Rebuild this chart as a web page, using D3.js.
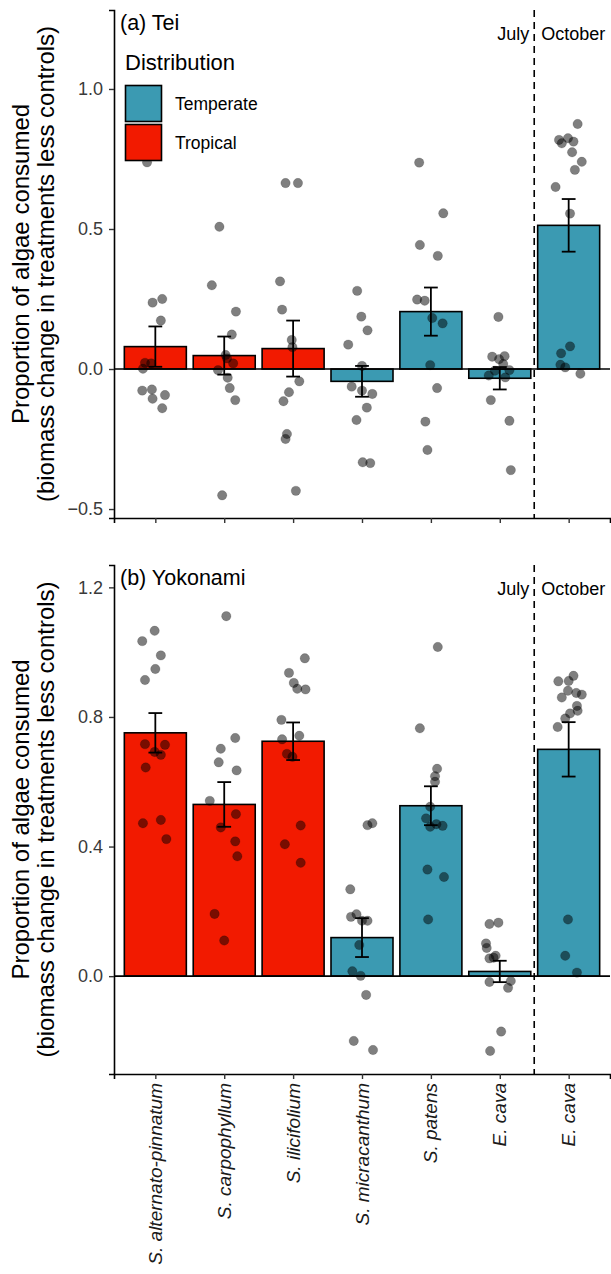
<!DOCTYPE html>
<html><head><meta charset="utf-8">
<script src="https://cdn.jsdelivr.net/npm/d3@7"></script>
<style>body{margin:0;background:#fff}svg{display:block}text{font-family:"Liberation Sans",Arial,sans-serif}</style>
</head><body><svg id="c" width="611" height="1274"></svg>
<script>
// ---- data ----
const categories = ["S. alternato-pinnatum","S. carpophyllum","S. ilicifolium","S. micracanthum","S. patens","E. cava","E. cava"];
const distribution = ["Tropical","Tropical","Tropical","Temperate","Temperate","Temperate","Temperate"];
const legendItems = ["Temperate","Tropical"];
const panelTitles = ["(a) Tei","(b) Yokonami"];
const monthLabels = ["July","October"];
const teiMean = [0.080,0.048,0.073,-0.044,0.205,-0.033,0.513];
const teiSE   = [0.072,0.068,0.100,0.055,0.086,0.040,0.094];
const yokMean = [0.751,0.530,0.725,0.119,0.526,0.0145,0.700];
const yokSE   = [0.061,0.069,0.058,0.060,0.060,0.033,0.084];
const teiTicks = [-0.5,0,0.5,1.0];
const yokTicks = [0,0.4,0.8,1.2];
// points: [category index (0-based), jitter (category units), value]
const teiPoints = [
[0,-0.12,0.738],[0,0.10,0.25],[0,-0.04,0.237],[0,0.08,0.173],[0,-0.15,0.022],[0,-0.06,0.02],[0,-0.18,0.001],[0,-0.05,-0.073],[0,-0.19,-0.077],[0,0.14,-0.093],[0,-0.04,-0.106],[0,0.10,-0.14],
[1,-0.07,0.508],[1,-0.18,0.299],[1,0.17,0.205],[1,0.11,0.123],[1,0.02,0.05],[1,0.04,0.038],[1,0.13,0.02],[1,-0.09,-0.004],[1,0.05,-0.031],[1,0.08,-0.068],[1,0.16,-0.111],[1,-0.03,-0.451],
[2,-0.11,0.664],[2,0.07,0.664],[2,-0.19,0.313],[2,-0.16,0.212],[2,-0.02,0.104],[2,-0.01,0.078],[2,0.09,-0.044],[2,-0.06,-0.083],[2,-0.14,-0.115],[2,-0.09,-0.232],[2,-0.11,-0.25],[2,0.04,-0.435],
[3,-0.07,0.279],[3,-0.01,0.187],[3,0.08,0.138],[3,-0.20,0.087],[3,0.00,0.011],[3,-0.15,-0.063],[3,0.00,-0.077],[3,0.15,-0.089],[3,0.07,-0.138],[3,-0.08,-0.182],[3,0.01,-0.333],[3,0.12,-0.336],
[4,-0.17,0.737],[4,0.18,0.556],[4,-0.16,0.443],[4,0.10,0.404],[4,-0.20,0.248],[4,-0.09,0.244],[4,0.02,0.182],[4,0.17,0.163],[4,-0.01,0.014],[4,0.09,-0.068],[4,-0.08,-0.188],[4,-0.05,-0.289],
[5,-0.02,0.186],[5,-0.11,0.044],[5,0.07,0.046],[5,-0.01,0.035],[5,0.05,0.018],[5,0.14,-0.004],[5,-0.07,-0.006],[5,-0.16,-0.023],[5,0.08,-0.03],[5,-0.13,-0.111],[5,0.14,-0.185],[5,0.16,-0.361],
[6,0.13,0.875],[6,-0.14,0.818],[6,-0.10,0.806],[6,-0.01,0.824],[6,0.07,0.812],[6,0.05,0.774],[6,0.19,0.74],[6,0.09,0.711],[6,-0.19,0.65],[6,0.02,0.555],[6,0.02,0.081],[6,-0.11,0.056],[6,-0.12,0.015],[6,-0.05,0.006],[6,0.17,-0.017]
];
const yokPoints = [
[0,-0.01,1.066],[0,-0.19,1.034],[0,0.08,0.99],[0,0.00,0.948],[0,-0.15,0.914],[0,-0.15,0.716],[0,0.14,0.714],[0,-0.01,0.692],[0,0.08,0.683],[0,-0.14,0.644],[0,-0.18,0.472],[0,0.08,0.482],[0,0.16,0.423],
[1,0.03,1.111],[1,0.16,0.735],[1,-0.05,0.702],[1,-0.08,0.66],[1,0.18,0.635],[1,-0.21,0.541],[1,0.17,0.5],[1,-0.05,0.459],[1,0.16,0.416],[1,0.19,0.37],[1,-0.14,0.192],[1,0.00,0.11],
[2,0.17,0.981],[2,-0.06,0.936],[2,0.01,0.905],[2,0.06,0.887],[2,0.18,0.885],[2,-0.17,0.791],[2,-0.16,0.731],[2,0.09,0.742],[2,-0.09,0.686],[2,-0.01,0.677],[2,0.11,0.465],[2,-0.12,0.407],[2,0.11,0.35],
[3,0.08,0.466],[3,0.15,0.472],[3,-0.17,0.268],[3,-0.08,0.191],[3,-0.16,0.183],[3,0.00,0.171],[3,0.08,0.171],[3,-0.04,0.096],[3,-0.14,0.015],[3,-0.02,0.001],[3,0.06,-0.058],[3,-0.12,-0.2],[3,0.16,-0.228],
[4,0.10,1.016],[4,-0.16,0.765],[4,0.09,0.64],[4,0.06,0.617],[4,0.06,0.6],[4,-0.01,0.523],[4,-0.07,0.487],[4,-0.01,0.461],[4,0.08,0.469],[4,0.17,0.464],[4,-0.05,0.329],[4,0.19,0.306],[4,-0.04,0.175],
[5,-0.15,0.161],[5,-0.02,0.165],[5,-0.20,0.101],[5,-0.19,0.087],[5,-0.15,0.055],[5,-0.06,0.063],[5,-0.09,0.057],[5,-0.15,-0.018],[5,0.16,-0.015],[5,0.12,-0.036],[5,0.02,-0.171],[5,-0.14,-0.231],
[6,0.07,0.927],[6,-0.15,0.91],[6,0.00,0.911],[6,-0.01,0.881],[6,0.11,0.874],[6,0.19,0.869],[6,-0.10,0.86],[6,0.12,0.834],[6,0.13,0.819],[6,0.02,0.811],[6,-0.05,0.795],[6,-0.16,0.769],[6,-0.01,0.175],[6,-0.05,0.063],[6,0.12,0.011]
];

// ---- layout / style ----
const colors = {Temperate:"#3B9AB2", Tropical:"#F21A00"};
const svg = d3.select("#c");
const x = d3.scaleLinear().domain([0.4, 7.6]).range([114, 610]);
const panels = [
  {mean:teiMean, se:teiSE, pts:teiPoints, ticks:teiTicks, fmt:d3.format(".1f"), y:d3.scaleLinear().domain([-0.532,1.282]).range([518,10]), title:panelTitles[0], xlabels:false, legend:true},
  {mean:yokMean, se:yokSE, pts:yokPoints, ticks:yokTicks, fmt:d3.format(".1f"), y:d3.scaleLinear().domain([-0.302,1.269]).range([1074,565]), title:panelTitles[1], xlabels:true, legend:false}
];

panels.forEach(p => {
  const y = p.y;
  const [yb, yt] = y.range();
  const g = svg.append("g");
  // bars
  g.selectAll("rect.bar").data(p.mean).join("rect")
    .attr("x", (d,i) => x(i+1-0.45)).attr("width", x(1.45)-x(0.55))
    .attr("y", d => y(Math.max(0,d))).attr("height", d => Math.abs(y(0)-y(d)))
    .attr("fill", (d,i) => colors[distribution[i]]).attr("stroke","#000").attr("stroke-width",1.6);
  // zero line
  g.append("line").attr("x1", x(0.4)).attr("x2", x(7.6)).attr("y1", y(0)).attr("y2", y(0))
    .attr("stroke","#000").attr("stroke-width",1.6);
  // points
  g.selectAll("circle").data(p.pts).join("circle")
    .attr("cx", d => x(d[0]+1+d[1])).attr("cy", d => y(d[2])).attr("r",4.7)
    .attr("fill","#000").attr("fill-opacity",0.5)
    .attr("stroke","#000").attr("stroke-opacity",0.25).attr("stroke-width",0.6);
  // error bars
  const eb = g.selectAll("g.eb").data(p.mean).join("g");
  eb.append("line").attr("x1",(d,i)=>x(i+1)).attr("x2",(d,i)=>x(i+1))
    .attr("y1",(d,i)=>y(d+p.se[i])).attr("y2",(d,i)=>y(d-p.se[i])).attr("stroke","#000").attr("stroke-width",1.8);
  [1,-1].forEach(s => eb.append("line").attr("x1",(d,i)=>x(i+1-0.1)).attr("x2",(d,i)=>x(i+1+0.1))
    .attr("y1",(d,i)=>y(d+s*p.se[i])).attr("y2",(d,i)=>y(d+s*p.se[i])).attr("stroke","#000").attr("stroke-width",1.8));
  // dashed line
  g.append("line").attr("x1",x(6.5)).attr("x2",x(6.5)).attr("y1",yt).attr("y2",yb)
    .attr("stroke","#000").attr("stroke-width",1.6).attr("stroke-dasharray","7,5");
  g.append("text").attr("x",x(6.5)-5).attr("y",yt+30).attr("text-anchor","end").attr("font-size",18).text(monthLabels[0]);
  g.append("text").attr("x",x(6.5)+7).attr("y",yt+30).attr("text-anchor","start").attr("font-size",18).text(monthLabels[1]);
  // axes
  const ya = g.append("g").attr("transform",`translate(${x(0.4)},0)`)
    .call(d3.axisLeft(y).tickValues(p.ticks).tickFormat(p.fmt).tickSizeOuter(0).tickSize(5).tickPadding(6));
  const xa = g.append("g").attr("transform",`translate(0,${yb})`)
    .call(d3.axisBottom(x).tickValues(d3.range(1,8)).tickSizeOuter(0).tickSize(5).tickFormat(""));
  [ya,xa].forEach(a => {
    a.select(".domain").attr("stroke","#000").attr("stroke-width",1.6);
    a.selectAll(".tick line").attr("stroke","#333").attr("stroke-width",1.4);
    a.selectAll(".tick text").attr("font-size",18).attr("fill","#3a3a3a").attr("font-family","Liberation Sans, Arial, sans-serif");
  });
  // x labels
  if (p.xlabels) {
    g.selectAll("text.xl").data(categories).join("text")
      .attr("transform",(d,i)=>`translate(${x(i+1)},${yb+9}) rotate(-90)`)
      .attr("text-anchor","end").attr("dominant-baseline","central")
      .attr("font-size",19).attr("font-style","italic").attr("fill","#1a1a1a").text(d=>d);
  }
  // panel title
  g.append("text").attr("x",120).attr("y",yt+20).attr("font-size",21.5).text(p.title);
  // y title
  const yc = (yb+yt)/2;
  g.append("text").attr("transform",`translate(20,${yc}) rotate(-90)`).attr("text-anchor","middle")
    .attr("dominant-baseline","central").attr("font-size",24).text("Proportion of algae consumed");
  g.append("text").attr("transform",`translate(45,${yc}) rotate(-90)`).attr("text-anchor","middle")
    .attr("dominant-baseline","central").attr("font-size",24).text("(biomass change in treatments less controls)");
  // legend
  if (p.legend) {
    g.append("text").attr("x",125).attr("y",70).attr("font-size",22).text("Distribution");
    legendItems.forEach((k,i) => {
      g.append("rect").attr("x",125.5).attr("y",85.5+i*39).attr("width",36).attr("height",36)
        .attr("fill",colors[k]).attr("stroke","#000").attr("stroke-width",1.6);
      g.append("text").attr("x",175).attr("y",103.5+i*39).attr("dominant-baseline","central").attr("font-size",17.5).text(k);
    });
  }
});
</script></body></html>
